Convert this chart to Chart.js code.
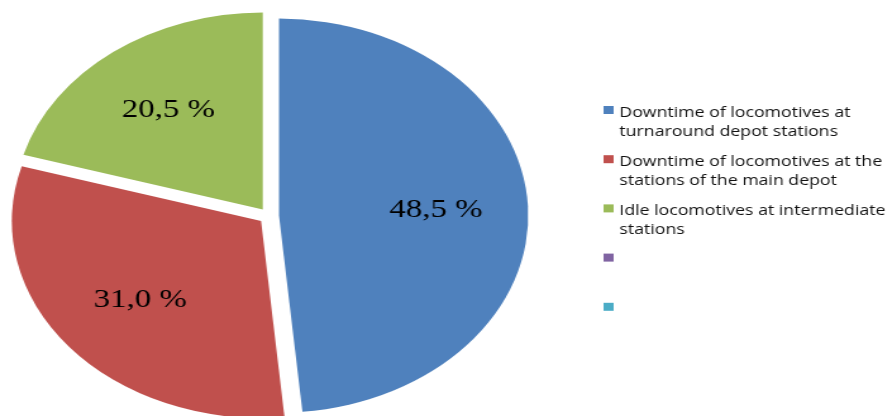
<!DOCTYPE html>
<html>
<head>
<meta charset="utf-8">
<script src="https://cdn.jsdelivr.net/npm/chart.js@4.4.1/dist/chart.umd.min.js"></script>
<style>
  html, body { margin: 0; padding: 0; background: #fff; overflow: hidden; }
  /* the source picture is stretched sideways, so the whole chart is too */
  #wrap { position: absolute; left: 0; top: 0; width: 705px; height: 416px; transform: scaleX(1.2652); transform-origin: 0 0; }
</style>
</head>
<body>
<div id="wrap"><canvas id="myChart"></canvas></div>
<script>
var categories = [
  ["Downtime of locomotives at", "turnaround depot stations"],
  ["Downtime of locomotives at the", "stations of the main depot"],
  ["Idle locomotives at intermediate", "stations"],
  [""],
  [""]
];
var shares = [48.5, 31.0, 20.5, 0, 0];
var sliceColors = ["#4F81BD", "#C0504D", "#9BBB59", "#8064A2", "#4BACC6"];

var EXPLODE = 8;

// pull every slice out from the centre (chart.js offset also grows big slices, so do it here)
const explodeSlices = {
  id: 'explodeSlices',
  beforeDatasetDraw(chart, args) {
    const ctx = chart.ctx;
    args.meta.data.forEach(function (arc) {
      const mid = (arc.startAngle + arc.endAngle) / 2;
      ctx.save();
      ctx.translate(Math.cos(mid) * EXPLODE, Math.sin(mid) * EXPLODE);
      arc.draw(ctx);
      ctx.restore();
    });
    return false;
  }
};

// percent labels inside the slices
const sliceLabels = {
  id: 'sliceLabels',
  afterDatasetsDraw(chart) {
    const ctx = chart.ctx;
    const meta = chart.getDatasetMeta(0);
    ctx.save();
    ctx.font = '26px "Liberation Serif", "Times New Roman", serif';
    ctx.fillStyle = '#000';
    ctx.textAlign = 'center';
    ctx.textBaseline = 'middle';
    meta.data.forEach(function (arc, i) {
      if (!shares[i]) return;
      const mid = (arc.startAngle + arc.endAngle) / 2;
      const d = arc.outerRadius * 0.63 + EXPLODE;
      ctx.fillText(shares[i].toFixed(1).replace('.', ',') + ' %', arc.x + Math.cos(mid) * d, arc.y + Math.sin(mid) * d);
    });
    ctx.restore();
  }
};

// legend on the right, two lines per entry
const sideLegend = {
  id: 'sideLegend',
  afterDraw(chart) {
    const ctx = chart.ctx;
    const x = 477, top = 106, step = 49.2, lineH = 18.5;
    ctx.save();
    ctx.font = '14px "Open Sans", sans-serif';
    ctx.textAlign = 'left';
    ctx.textBaseline = 'alphabetic';
    categories.forEach(function (lines, i) {
      const y = top + i * step;
      ctx.fillStyle = sliceColors[i];
      ctx.fillRect(x, y, 8, 8);
      ctx.fillStyle = '#111';
      lines.forEach(function (t, k) {
        ctx.fillText(t, x + 12.5, y + 11 + k * lineH);
      });
    });
    ctx.restore();
  }
};

new Chart("myChart", {
  type: "pie",
  data: {
    labels: categories,
    datasets: [{
      data: shares,
      backgroundColor: sliceColors,
      borderWidth: 0,
      radius: 197,
      clip: false
    }]
  },
  options: {
    responsive: true,
    maintainAspectRatio: false,
    animation: false,
    layout: { padding: { left: 0, right: 280, top: 16, bottom: 0 } },
    plugins: {
      legend: { display: false },
      tooltip: { enabled: false }
    }
  },
  plugins: [explodeSlices, sliceLabels, sideLegend]
});
</script>
</body>
</html>
